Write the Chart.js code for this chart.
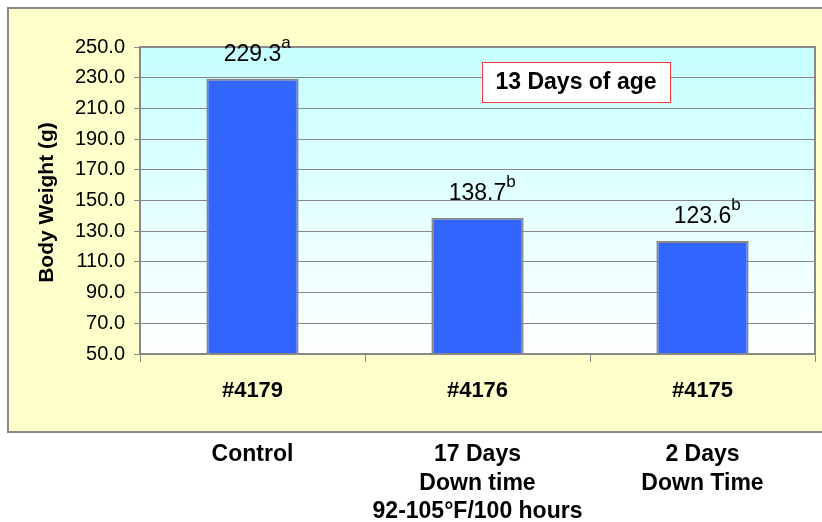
<!DOCTYPE html>
<html>
<head>
<meta charset="utf-8">
<script src="https://cdn.jsdelivr.net/npm/chart.js@4"></script>
<style>
  html, body { margin: 0; padding: 0; background: #fff; }
  #wrap { width: 822px; height: 522px; }
</style>
</head>
<body>
<div id="wrap"><canvas id="bw" width="822" height="522"></canvas></div>
<script>
const flocks = ['#4179', '#4176', '#4175']
const treatments = [['Control'], ['17 Days', 'Down time', '92-105°F/100 hours'], ['2 Days', 'Down Time']]
const weights = [229.3, 138.7, 123.6]
const letters = ['a', 'b', 'b']
const yTicks = [50, 70, 90, 110, 130, 150, 170, 190, 210, 230, 250]
const boxTitle = '13 Days of age'
const yTitle = 'Body Weight (g)'

const FONT = 'Arial, "Liberation Sans", sans-serif'

const decorations = {
    id: 'decorations',
    beforeDraw(chart) {
        const ctx = chart.ctx
        const a = chart.chartArea
        ctx.save()
        // outer yellow panel
        ctx.fillStyle = '#FFFFCC'
        ctx.fillRect(8, 8, 830, 424)
        ctx.strokeStyle = '#888888'
        ctx.lineWidth = 2
        ctx.strokeRect(8, 8, 830, 424)
        // plot area gradient
        const g = ctx.createLinearGradient(0, a.top, 0, a.bottom)
        g.addColorStop(0, '#C6FFFF')
        g.addColorStop(1, '#FFFFFF')
        ctx.fillStyle = g
        ctx.fillRect(a.left, a.top, a.right - a.left, a.bottom - a.top)
        ctx.restore()
    },
    afterDatasetsDraw(chart) {
        const ctx = chart.ctx
        const a = chart.chartArea
        const x = chart.scales.x
        const y = chart.scales.y
        ctx.save()
        // plot border
        ctx.strokeStyle = '#888888'
        ctx.lineWidth = 2
        ctx.strokeRect(a.left, a.top, a.right - a.left, a.bottom - a.top)

        // value labels with superscript letters
        ctx.fillStyle = '#000'
        ctx.textBaseline = 'alphabetic'
        weights.forEach((v, i) => {
            const cx = x.getPixelForValue(i)
            const top = y.getPixelForValue(v)
            const txt = v.toFixed(1)
            ctx.font = '23px ' + FONT
            ctx.textAlign = 'center'
            ctx.fillText(txt, cx, top - 18)
            const w = ctx.measureText(txt).width
            ctx.font = '17px ' + FONT
            ctx.textAlign = 'left'
            ctx.fillText(letters[i], cx + w / 2, top - 31)
        })

        // title box
        ctx.fillStyle = '#FFFFFF'
        ctx.fillRect(482, 62, 188, 40)
        ctx.strokeStyle = '#FF3333'
        ctx.lineWidth = 1
        ctx.strokeRect(482.5, 62.5, 188, 40)
        ctx.fillStyle = '#000'
        ctx.font = 'bold 23px ' + FONT
        ctx.textAlign = 'center'
        ctx.textBaseline = 'middle'
        ctx.fillText(boxTitle, 576, 83)

        // y axis title
        ctx.save()
        ctx.translate(47, (a.top + a.bottom) / 2 + 2)
        ctx.rotate(-Math.PI / 2)
        ctx.font = 'bold 21px ' + FONT
        ctx.fillText(yTitle, 0, 0)
        ctx.restore()

        // treatment labels under the panel
        ctx.font = 'bold 23px ' + FONT
        treatments.forEach((lines, i) => {
            const cx = x.getPixelForValue(i)
            lines.forEach((l, j) => ctx.fillText(l, cx, 455 + j * 28.5))
        })
        ctx.restore()
    }
}

new Chart(document.getElementById('bw'), {
    type: 'bar',
    data: {
        labels: flocks,
        datasets: [{
            data: weights,
            backgroundColor: '#3366FF',
            borderColor: '#888888',
            borderWidth: 2,
            borderSkipped: 'bottom',
            categoryPercentage: 1,
            barPercentage: 0.41
        }]
    },
    options: {
        responsive: false,
        animation: false,
        layout: { padding: { top: 47, right: 7, left: 0, bottom: 0 } },
        plugins: { legend: { display: false }, tooltip: { enabled: false } },
        scales: {
            x: {
                offset: true,
                afterFit(s) { s.height = 168 },
                grid: { offset: true, drawOnChartArea: false, drawTicks: true, tickLength: 8, color: '#888888' },
                border: { color: '#888888', width: 2 },
                ticks: { color: '#000', padding: 16, font: { family: FONT, size: 22, weight: 'bold' } }
            },
            y: {
                min: 50,
                max: 250,
                afterFit(s) { s.width = 140 },
                afterBuildTicks(s) { s.ticks = yTicks.map(v => ({ value: v })) },
                grid: { color: '#888888', lineWidth: 1, tickLength: 6 },
                border: { color: '#888888', width: 2 },
                ticks: {
                    color: '#000',
                    padding: 9,
                    font: { family: FONT, size: 20 },
                    callback: v => v.toFixed(1)
                }
            }
        }
    },
    plugins: [decorations]
})
</script>
</body>
</html>
